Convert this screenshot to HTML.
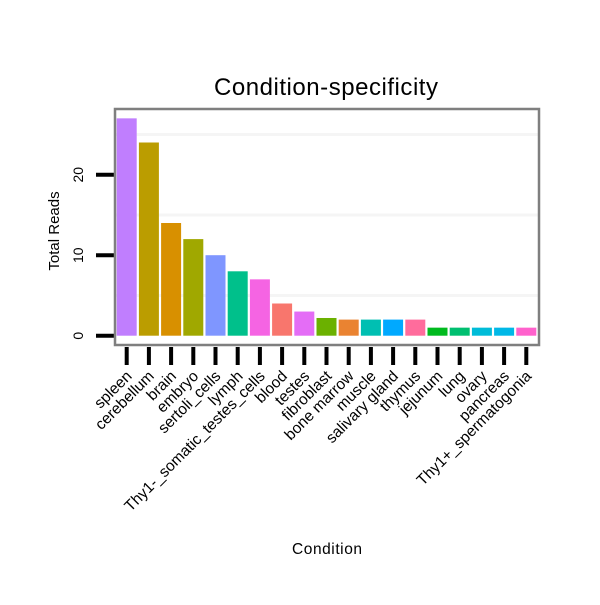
<!DOCTYPE html>
<html><head><meta charset="utf-8"><style>
body{margin:0;background:#fff;font-family:"Liberation Sans",sans-serif}
svg text{font-family:"Liberation Sans",sans-serif}
</style></head><body>
<svg width="600" height="600">
<rect width="600" height="600" fill="#fff"/>
<text x="326" y="95" font-size="24" text-anchor="middle" textLength="224">Condition-specificity</text>
<text transform="translate(59,231) rotate(-90)" font-size="15" text-anchor="middle">Total Reads</text>
<text x="327" y="554" font-size="15.5" text-anchor="middle" textLength="70">Condition</text>
<g id="grid"></g><g id="bars"></g><g id="axes"></g>
<rect x="115" y="109" width="424" height="236" fill="none" stroke="#7f7f7f" stroke-width="2.5"/>
</svg>
<script>
const categories=["spleen","cerebellum","brain","embryo","sertoli_cells","lymph","Thy1-_somatic_testes_cells","blood","testes","fibroblast","bone marrow","muscle","salivary gland","thymus","jejunum","lung","ovary","pancreas","Thy1+_spermatogonia"];
const values=[27,24,14,12,10,8,7,4,3,2.2,2,2,2,2,1,1,1,1,1];
const colors=["#C07EFE","#BB9D00","#D89000","#A0A800","#7F96FF","#00C08B","#F564E3","#F8766D","#E46DF6","#6BB100","#EA8331","#00BFB2","#00A9FF","#FF6C9C","#00BA1E","#00BF70","#00BCD8","#00B8E7","#FF61CC"];
const yTicks=[0,10,20];
const yGrid=[5,15,25];
const ns="http://www.w3.org/2000/svg";
const y0=335.7,ppu=8.05,x0=126.7,step=22.2,bw=20;
const y=v=>y0-v*ppu, x=i=>x0+i*step;
const G=document.getElementById('grid'),B=document.getElementById('bars'),A=document.getElementById('axes');
function mk(tag,at,p){const e=document.createElementNS(ns,tag);for(const k in at)e.setAttribute(k,at[k]);p.appendChild(e);return e;}
yGrid.forEach(v=>{const l=mk('line',{x1:116,x2:538,y1:y(v),y2:y(v),stroke:'#f5f5f5','stroke-width':3},G);

});
yTicks.forEach(v=>{const l=mk('line',{x1:96,x2:114,y1:y(v),y2:y(v),stroke:'#000','stroke-width':4},A);


const t=mk('text',{transform:`translate(83,${y(v)}) rotate(-90)`,'font-size':14,'text-anchor':'middle'},A);t.textContent=v;

});
categories.forEach((c,i)=>{
const r=mk('rect',{x:x(i)-bw/2,y:y(values[i]),width:bw,height:y0-y(values[i]),fill:colors[i]},B);


const l=mk('line',{x1:x(i),x2:x(i),y1:347,y2:365,stroke:'#000','stroke-width':4},A);


const t=mk('text',{transform:`translate(${x(i)+6},${377}) rotate(-45)`,'font-size':15.5,'text-anchor':'end'},A);t.textContent=c;


});
</script>
</body></html>
